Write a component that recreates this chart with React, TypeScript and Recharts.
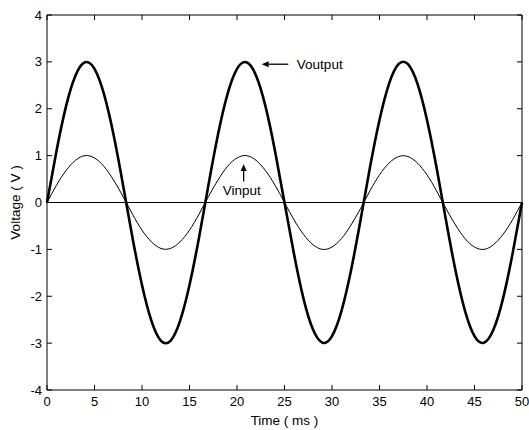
import React from 'react';
import { LineChart, Line, XAxis, YAxis, ReferenceLine, ReferenceDot } from 'recharts';

const timeMs = [0,1,2,3,4,5,6,7,8,9,10,11,12,13,14,15,16,17,18,19,20,21,22,23,24,25,26,27,28,29,30,31,32,33,34,35,36,37,38,39,40,41,42,43,44,45,46,47,48,49,50];
const vOutput = [0,1.10,2.05,2.71,2.99,2.85,2.31,1.45,0.38,-0.75,-1.76,-2.53,-2.95,-2.95,-2.53,-1.76,-0.75,0.38,1.45,2.31,2.85,2.99,2.71,2.05,1.10,0,-1.10,-2.05,-2.71,-2.99,-2.85,-2.31,-1.45,-0.38,0.75,1.76,2.53,2.95,2.95,2.53,1.76,0.75,-0.38,-1.45,-2.31,-2.85,-2.99,-2.71,-2.05,-1.10,0];
const vInput = [0,0.37,0.68,0.90,1.00,0.95,0.77,0.48,0.13,-0.25,-0.59,-0.84,-0.98,-0.98,-0.84,-0.59,-0.25,0.13,0.48,0.77,0.95,1.00,0.90,0.68,0.37,0,-0.37,-0.68,-0.90,-1.00,-0.95,-0.77,-0.48,-0.13,0.25,0.59,0.84,0.98,0.98,0.84,0.59,0.25,-0.13,-0.48,-0.77,-0.95,-1.00,-0.90,-0.68,-0.37,0];
const xTicks = [0,5,10,15,20,25,30,35,40,45,50];
const yTicks = [-4,-3,-2,-1,0,1,2,3,4];

const data = timeMs.map((t, i) => ({ t, out: vOutput[i], inp: vInput[i] }));

const FONT = 'Liberation Sans, Arial, sans-serif';
const TICK_FS = 13;
const LABEL_FS = 13.5;

const Arrow = (props: any) => {
  const { x1, y1, x2, y2 } = props;
  const dx = x2 - x1;
  const dy = y2 - y1;
  const len = Math.sqrt(dx * dx + dy * dy) || 1;
  const ux = dx / len;
  const uy = dy / len;
  const hl = 7;
  const hw = 3;
  const bx = x2 - ux * hl;
  const by = y2 - uy * hl;
  const pts = `${x2},${y2} ${bx - uy * hw},${by + ux * hw} ${bx + uy * hw},${by - ux * hw}`;
  return (
    <g>
      <line x1={x1} y1={y1} x2={bx} y2={by} stroke="#000" strokeWidth={1.3} />
      <polygon points={pts} fill="#000" />
    </g>
  );
};

export default function App() {
  return (
    <div style={{ position: 'absolute', left: 0, top: 0 }}>
      <LineChart width={529} height={430} data={data} margin={{ top: 14, right: 6, bottom: 0, left: 0 }}>
        <XAxis
          dataKey="t"
          type="number"
          domain={[0, 50]}
          ticks={xTicks}
          interval={0}
          height={40}
          stroke="#000"
          tickSize={-5}
          tickMargin={12}
          tick={{ fill: '#000', fontSize: TICK_FS, fontFamily: FONT }}
          label={{
            content: (p: any) => {
              const vb = p.viewBox;
              return (
                <text x={vb.x + vb.width / 2} y={425} textAnchor="middle" fontSize={LABEL_FS} fontFamily={FONT} fill="#000">
                  Time ( ms )
                </text>
              );
            },
          }}
        />
        <XAxis xAxisId="top" orientation="top" type="number" dataKey="t" domain={[0, 50]} ticks={xTicks} interval={0} height={1} stroke="#000" tickSize={-5} tick={() => null} />
        <YAxis
          type="number"
          domain={[-4, 4]}
          ticks={yTicks}
          interval={0}
          width={47}
          stroke="#000"
          tickSize={-5}
          tickMargin={10}
          tick={{ fill: '#000', fontSize: TICK_FS, fontFamily: FONT }}
          label={{
            content: (p: any) => {
              const vb = p.viewBox;
              const cx = 15.5;
              const cy = vb.y + vb.height / 2;
              return (
                <text x={cx} y={cy} transform={`rotate(-90 ${cx} ${cy})`} textAnchor="middle" dominantBaseline="central" fontSize={LABEL_FS} fontFamily={FONT} fill="#000">
                  Voltage ( V )
                </text>
              );
            },
          }}
        />
        <YAxis yAxisId="right" orientation="right" type="number" domain={[-4, 4]} ticks={yTicks} interval={0} width={1} stroke="#000" tickSize={-5} tick={() => null} />
        <ReferenceLine y={0} stroke="#000" strokeWidth={1} />
        <Line xAxisId="top" yAxisId="right" dataKey="inp" type="natural" stroke="none" strokeWidth={0} dot={false} activeDot={false} legendType="none" isAnimationActive={false} />
        <Line dataKey="inp" type="natural" stroke="#000" strokeWidth={1} dot={false} isAnimationActive={false} />
        <Line dataKey="out" type="natural" stroke="#000" strokeWidth={2.6} dot={false} isAnimationActive={false} />
        <ReferenceLine segment={[{ x: 25.4, y: 2.95 }, { x: 22.6, y: 2.95 }]} shape={Arrow} />
        <ReferenceLine segment={[{ x: 20.7, y: 0.45 }, { x: 20.7, y: 0.82 }]} shape={Arrow} />
        <ReferenceDot x={26.3} y={2.95} r={0} fill="none" stroke="none"
          label={{ value: 'Voutput', position: 'right', offset: 0, fontSize: LABEL_FS, fontFamily: FONT, fill: '#000' }} />
        <ReferenceDot x={20.5} y={0.27} r={0} fill="none" stroke="none"
          label={{ value: 'Vinput', position: 'center', offset: 0, fontSize: LABEL_FS, fontFamily: FONT, fill: '#000' }} />
      </LineChart>
    </div>
  );
}
